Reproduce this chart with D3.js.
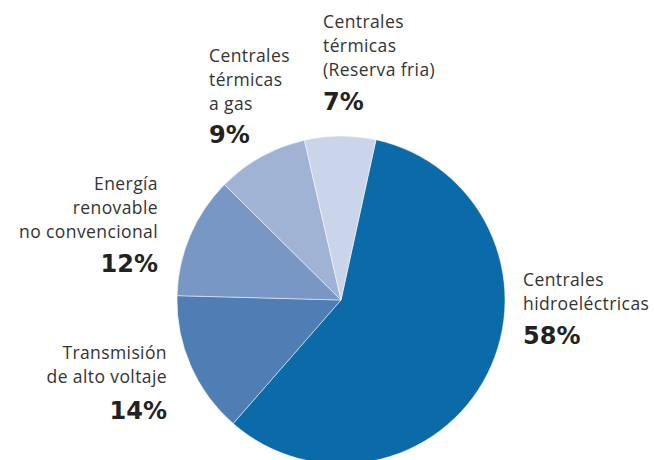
<!DOCTYPE html>
<html>
<head>
<meta charset="utf-8">
<script src="https://cdn.jsdelivr.net/npm/d3@7"></script>
<style>
body{margin:0;background:#fff}
.label{font-family:"Open Sans",sans-serif;font-size:17.5px;letter-spacing:0.4px;fill:#333}
.pct{font-family:"DejaVu Sans",sans-serif;font-size:24px;font-weight:700;fill:#222}
</style>
</head>
<body>
<svg id="pie"></svg>
<script>
// slices in drawing order, clockwise from the top
var names=["Centrales hidroeléctricas","Transmisión de alto voltaje","Energía renovable no convencional","Centrales térmicas a gas","Centrales térmicas (Reserva fria)"]
var values=[58,14,12,9,7]
var colors=["#0b6aa8","#4e7eb4","#7897c5","#a0b3d5","#cbd5e9"]
var labelLines=[
    ["Centrales","hidroeléctricas"],
    ["Transmisión","de alto voltaje"],
    ["Energía","renovable","no convencional"],
    ["Centrales","térmicas","a gas"],
    ["Centrales","térmicas","(Reserva fria)"]
]
var pctLabels=["58%","14%","12%","9%","7%"]

var screen={width:654,height:460}
var center={x:341,y:300}
var radius=164

// where each text block sits: x anchor, first baseline, anchor side
var labelPos=[
    {x:523,y:286,anchor:"start"},
    {x:167,y:359,anchor:"end"},
    {x:158,y:190,anchor:"end"},
    {x:209,y:62,anchor:"start"},
    {x:323,y:28,anchor:"start"}
]
var pctGap=[34,36,34,33,34]

var svg=d3.select("#pie")
    .attr("width",screen.width)
    .attr("height",screen.height)

var pie=d3.pie()
    .sort(null)
    .value(function(d){return d})
    .startAngle(0.215)
    .endAngle(0.215+2*Math.PI)

var arc=d3.arc()
    .innerRadius(0)
    .outerRadius(radius)

svg.append("g")
    .attr("transform","translate("+center.x+","+center.y+")")
    .selectAll("path")
    .data(pie(values))
    .enter()
    .append("path")
    .attr("d",arc)
    .attr("fill",function(d,i){return colors[i]})
    .attr("stroke","#fff")
    .attr("stroke-width",0.5)

var labels=svg.append("g")
    .selectAll("g")
    .data(names)
    .enter()
    .append("g")

labels.each(function(name,i){
    var g=d3.select(this)
    var p=labelPos[i]
    var lines=labelLines[i]
    g.selectAll("text.label")
        .data(lines)
        .enter()
        .append("text")
        .classed("label",true)
        .attr("text-anchor",p.anchor)
        .attr("x",p.x)
        .attr("y",function(l,j){return p.y+j*24})
        .text(function(l){return l})
    g.append("text")
        .classed("pct",true)
        .attr("text-anchor",p.anchor)
        .attr("x",p.x)
        .attr("y",p.y+(lines.length-1)*24+pctGap[i])
        .text(pctLabels[i])
})
</script>
</body>
</html>
